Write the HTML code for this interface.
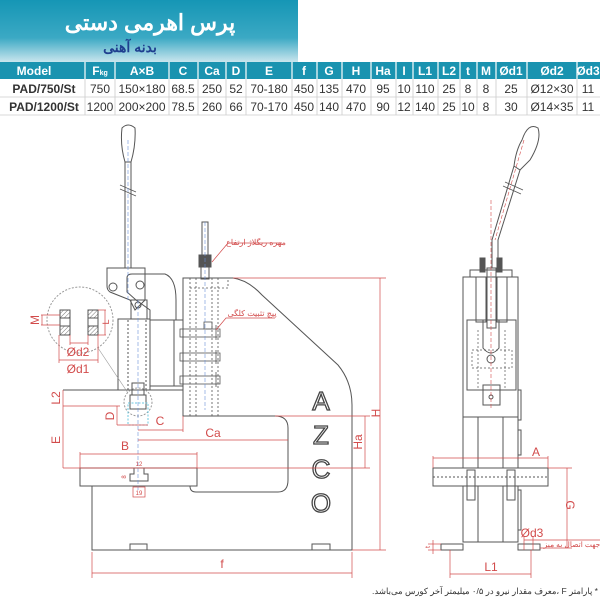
<!DOCTYPE html>
<html><head><meta charset="utf-8"><style>
body{margin:0;width:600px;height:600px;background:#fff;overflow:hidden;font-family:"Liberation Sans","Noto Sans CJK SC",sans-serif}
</style></head><body>
<svg width="600" height="600" viewBox="0 0 600 600" xmlns="http://www.w3.org/2000/svg" font-family="Liberation Sans, Noto Sans CJK SC, sans-serif">
<defs>
<linearGradient id="bn" x1="0" y1="0" x2="0" y2="1"><stop offset="0" stop-color="#1596b5"/><stop offset="0.6" stop-color="#3ba9c4"/><stop offset="1" stop-color="#cfe8ef"/></linearGradient>
<pattern id="ht" width="3" height="3" patternUnits="userSpaceOnUse" patternTransform="rotate(45)"><line x1="0" y1="0" x2="0" y2="3" stroke="#777" stroke-width="1"/></pattern>
</defs>
<rect x="0" y="0" width="298" height="63" fill="url(#bn)"/>
<text x="150" y="30" text-anchor="middle" font-size="22" font-weight="bold" fill="#fff">پرس اهرمی دستی</text>
<text x="130" y="52" text-anchor="middle" font-size="14" font-weight="bold" fill="#1f3f8f">بدنه آهنی</text>
<rect x="0" y="62" width="600" height="17" fill="#1a93b0"/>
<g font-size="12" font-weight="bold" fill="#fff" text-anchor="middle">
<text x="34" y="75">Model</text><text x="100" y="75">F<tspan font-size="7">kg</tspan></text><text x="142" y="75">A×B</text><text x="183" y="75">C</text><text x="212" y="75">Ca</text><text x="236" y="75">D</text><text x="269" y="75">E</text><text x="304" y="75">f</text><text x="329" y="75">G</text><text x="356" y="75">H</text><text x="383" y="75">Ha</text><text x="404" y="75">I</text><text x="425" y="75">L1</text><text x="449" y="75">L2</text><text x="468" y="75">t</text><text x="486" y="75">M</text><text x="511" y="75">Ød1</text><text x="552" y="75">Ød2</text><text x="588" y="75">Ød3</text>
</g>
<g stroke="#fff" stroke-width="1.2"><line x1="85" y1="62" x2="85" y2="79"/><line x1="115" y1="62" x2="115" y2="79"/><line x1="169" y1="62" x2="169" y2="79"/><line x1="198" y1="62" x2="198" y2="79"/><line x1="226" y1="62" x2="226" y2="79"/><line x1="246" y1="62" x2="246" y2="79"/><line x1="292" y1="62" x2="292" y2="79"/><line x1="317" y1="62" x2="317" y2="79"/><line x1="342" y1="62" x2="342" y2="79"/><line x1="371" y1="62" x2="371" y2="79"/><line x1="396" y1="62" x2="396" y2="79"/><line x1="413" y1="62" x2="413" y2="79"/><line x1="438" y1="62" x2="438" y2="79"/><line x1="460" y1="62" x2="460" y2="79"/><line x1="477" y1="62" x2="477" y2="79"/><line x1="496" y1="62" x2="496" y2="79"/><line x1="527" y1="62" x2="527" y2="79"/><line x1="577" y1="62" x2="577" y2="79"/></g>
<g stroke="#ccc" stroke-width="0.8"><line x1="0" y1="97" x2="600" y2="97"/><line x1="0" y1="115" x2="600" y2="115"/>
<line x1="85" y1="79" x2="85" y2="115"/><line x1="115" y1="79" x2="115" y2="115"/><line x1="169" y1="79" x2="169" y2="115"/><line x1="198" y1="79" x2="198" y2="115"/><line x1="226" y1="79" x2="226" y2="115"/><line x1="246" y1="79" x2="246" y2="115"/><line x1="292" y1="79" x2="292" y2="115"/><line x1="317" y1="79" x2="317" y2="115"/><line x1="342" y1="79" x2="342" y2="115"/><line x1="371" y1="79" x2="371" y2="115"/><line x1="396" y1="79" x2="396" y2="115"/><line x1="413" y1="79" x2="413" y2="115"/><line x1="438" y1="79" x2="438" y2="115"/><line x1="460" y1="79" x2="460" y2="115"/><line x1="477" y1="79" x2="477" y2="115"/><line x1="496" y1="79" x2="496" y2="115"/><line x1="527" y1="79" x2="527" y2="115"/><line x1="577" y1="79" x2="577" y2="115"/></g>
<g font-size="12" fill="#333" text-anchor="middle">
<text x="44" y="93" font-weight="bold">PAD/750/St</text><text x="100" y="93">750</text><text x="142" y="93">150×180</text><text x="183" y="93">68.5</text><text x="212" y="93">250</text><text x="236" y="93">52</text><text x="269" y="93">70-180</text><text x="304" y="93">450</text><text x="329" y="93">135</text><text x="356" y="93">470</text><text x="383" y="93">95</text><text x="404" y="93">10</text><text x="425" y="93">110</text><text x="449" y="93">25</text><text x="468" y="93">8</text><text x="486" y="93">8</text><text x="511" y="93">25</text><text x="552" y="93">Ø12×30</text><text x="588" y="93">11</text>
<text x="44" y="111" font-weight="bold">PAD/1200/St</text><text x="100" y="111">1200</text><text x="142" y="111">200×200</text><text x="183" y="111">78.5</text><text x="212" y="111">260</text><text x="236" y="111">66</text><text x="269" y="111">70-170</text><text x="304" y="111">450</text><text x="329" y="111">140</text><text x="356" y="111">470</text><text x="383" y="111">90</text><text x="404" y="111">12</text><text x="425" y="111">140</text><text x="449" y="111">25</text><text x="468" y="111">10</text><text x="486" y="111">8</text><text x="511" y="111">30</text><text x="552" y="111">Ø14×35</text><text x="588" y="111">11</text>
</g>

<g fill="none" stroke="#555" stroke-width="1">
<path d="M122,128 Q128,122 135,128 Q136,145 131,162 L125,162 Q120,145 122,128 Z"/>
<rect x="125" y="162" width="6" height="106"/>
<path d="M120,185 L136,192 M120,189 L136,196" stroke-width="0.8"/>
<path d="M107,268 L145,268 L145,300 L135,310 L130,300 L110,292 Q107,290 107,286 Z"/>
<path d="M127,278 Q127,274 132,274 L165,274 Q176,278 176,300 L176,320 L150,320 L150,310 L136,300 L127,292 Z"/>
<rect x="131" y="300" width="16" height="19"/>
<circle cx="113" cy="287" r="4"/><circle cx="140" cy="285" r="4"/><circle cx="138" cy="305" r="3"/>
<rect x="118" y="319" width="32" height="71"/>
<rect x="150" y="320" width="24" height="66"/>
<rect x="174" y="320" width="9" height="66"/>
<line x1="128" y1="320" x2="128" y2="390" stroke-dasharray="2,2"/><line x1="146" y1="320" x2="146" y2="390" stroke-dasharray="2,2"/>
<path d="M183,278 L233,278 Q248,280 262,295 L338,365 Q352,382 352,405 L352,550 L92,550 L92,486 L190,486 Q190,492 196,492 L278,492 Q288,492 288,480 L288,428 Q288,416 275,416 L183,416 Z"/>
<line x1="63" y1="390" x2="183" y2="390"/>
<g stroke-dasharray="2,2" stroke-width="0.8"><line x1="190" y1="278" x2="190" y2="416"/><line x1="196" y1="278" x2="196" y2="416"/><line x1="212" y1="278" x2="212" y2="416"/><line x1="218" y1="278" x2="218" y2="416"/><path d="M190,288 L228,288 L228,278"/></g>
<rect x="202" y="222" width="6" height="33"/>
<rect x="199" y="255" width="12" height="12" fill="#555"/>
<rect x="201" y="267" width="8" height="12"/>
<g stroke-width="0.8"><rect x="180" y="329" width="40" height="8"/><rect x="180" y="353" width="40" height="8"/><rect x="180" y="376" width="40" height="8"/>
<rect x="204" y="322" width="8" height="7"/><line x1="216" y1="325" x2="216" y2="340"/><line x1="216" y1="350" x2="216" y2="364"/><line x1="216" y1="372" x2="216" y2="387"/></g>
<rect x="80" y="468" width="117" height="18"/>
<path d="M134,468 L134,474 L130,474 L130,481 L148,481 L148,474 L144,474 L144,468" />
<rect x="130" y="544" width="17" height="6"/><rect x="312" y="544" width="18" height="6"/>
<circle cx="80" cy="320" r="33" stroke="#999" stroke-dasharray="2,1.5"/>
<circle cx="138" cy="402" r="14" stroke="#999" stroke-dasharray="2,1.5"/>
<line x1="98" y1="348" x2="128" y2="393" stroke="#999" stroke-width="0.6"/>
<rect x="60" y="310" width="10" height="25" fill="url(#ht)"/><rect x="88" y="310" width="10" height="25" fill="url(#ht)"/>
<rect x="60" y="318" width="10" height="8" fill="#fff"/><rect x="88" y="318" width="10" height="8" fill="#fff"/>
<rect x="130" y="395" width="16" height="14"/>
<rect x="132" y="383" width="12" height="12"/>
</g>
<rect x="128" y="403" width="20" height="22" fill="none" stroke="#6cc8e0" stroke-dasharray="2,1.5"/>
<g stroke="#6a8fd8" stroke-width="0.6" stroke-dasharray="4,2"><line x1="128" y1="140" x2="128" y2="300"/><line x1="138" y1="300" x2="138" y2="490"/><line x1="205" y1="222" x2="205" y2="410"/></g>
<g font-size="26" fill="none" stroke="#444" stroke-width="1.3" text-anchor="middle" font-family="Liberation Sans, sans-serif"><text x="321" y="410">A</text><text x="321" y="444">Z</text><text x="321" y="478">C</text><text x="321" y="512">O</text></g>

<g stroke="#d24b4b" stroke-width="0.7" fill="none">
<line x1="233" y1="278" x2="386" y2="278"/><line x1="352" y1="550" x2="386" y2="550"/><line x1="380" y1="278" x2="380" y2="550"/>
<line x1="275" y1="416" x2="370" y2="416"/><line x1="63" y1="468" x2="370" y2="468"/><line x1="365" y1="416" x2="365" y2="468"/>
<line x1="92" y1="552" x2="92" y2="578"/><line x1="352" y1="552" x2="352" y2="578"/><line x1="92" y1="573" x2="352" y2="573"/>
<line x1="63" y1="390" x2="63" y2="468"/><line x1="63" y1="406" x2="120" y2="406"/>
<line x1="117" y1="406" x2="117" y2="425"/><line x1="117" y1="425" x2="148" y2="425"/>
<line x1="138" y1="430" x2="183" y2="430"/><line x1="183" y1="416" x2="183" y2="432"/>
<line x1="138" y1="440" x2="288" y2="440"/>
<line x1="80" y1="454" x2="197" y2="454"/><line x1="80" y1="452" x2="80" y2="468"/><line x1="197" y1="452" x2="197" y2="468"/>
<rect x="133" y="487" width="12" height="10"/>
<line x1="41" y1="315" x2="60" y2="315"/><line x1="41" y1="325" x2="60" y2="325"/><line x1="42" y1="315" x2="42" y2="325"/>
<line x1="98" y1="310" x2="106" y2="310"/><line x1="98" y1="335" x2="106" y2="335"/><line x1="105" y1="310" x2="105" y2="335"/>
<line x1="70" y1="335" x2="70" y2="345"/><line x1="88" y1="335" x2="88" y2="345"/><line x1="70" y1="343" x2="88" y2="343"/>
<line x1="59" y1="335" x2="59" y2="363"/><line x1="98" y1="335" x2="98" y2="363"/><line x1="59" y1="360" x2="98" y2="360"/>
<path d="M212,262 L228,243 L282,243"/><path d="M216,330 L226,318 L275,318"/>
</g>
<g fill="#d24b4b" font-size="12" text-anchor="middle">
<text x="222" y="568">f</text><text x="160" y="425">C</text><text x="213" y="437">Ca</text><text x="125" y="450">B</text>
<text transform="translate(380,413) rotate(-90)">H</text><text transform="translate(362,442) rotate(-90)">Ha</text>
<text transform="translate(60,440) rotate(-90)">E</text><text transform="translate(60,398) rotate(-90)">L2</text>
<text transform="translate(114,416) rotate(-90)">D</text><text transform="translate(39,320) rotate(-90)">M</text><text transform="translate(109,322) rotate(-90)" font-size="9">L</text>
<text x="78" y="356">Ød2</text><text x="78" y="373">Ød1</text>
<text x="139" y="466" font-size="6">12</text><text x="139" y="495" font-size="6">19</text><text transform="translate(126,477) rotate(-90)" font-size="6">8</text>
<text x="256" y="245" font-size="8">مهره ریگلاژ ارتفاع</text><text x="252" y="316" font-size="8">پیچ تثبیت کلگی</text>
</g>

<g fill="none" stroke="#555" stroke-width="1">
<path d="M522,140 Q528,122 538,128 Q542,140 530,160 L520,170 L514,166 Q516,150 522,140 Z"/>
<path d="M514,166 L492,240 L492,268 M520,170 L498,240 L498,268"/>
<path d="M505,182 L523,190 M503,186 L521,194" stroke-width="0.8"/>
<rect x="463" y="277" width="55" height="265"/>
<rect x="470" y="270" width="42" height="7"/>
<rect x="480" y="258" width="5" height="14" fill="#555"/><rect x="497" y="258" width="5" height="14" fill="#555"/>
<rect x="476" y="277" width="10" height="45"/><rect x="497" y="277" width="10" height="45"/>
<rect x="487" y="268" width="9" height="60"/>
<rect x="467" y="320" width="49" height="70"/>
<path d="M483,320 L483,348 Q491,358 499,348 L499,320"/>
<circle cx="491" cy="359" r="4"/>
<rect x="483" y="385" width="17" height="20"/><circle cx="491" cy="397" r="2"/>
<line x1="463" y1="417" x2="518" y2="417"/>
<line x1="478" y1="417" x2="478" y2="542"/><line x1="503" y1="417" x2="503" y2="542"/>
<rect x="518" y="390" width="3" height="30"/><rect x="518" y="430" width="3" height="25"/><rect x="518" y="490" width="3" height="40"/>
<rect x="433" y="468" width="115" height="18" fill="#fff"/>
<line x1="433" y1="477" x2="548" y2="477" stroke-dasharray="2,2"/>
<rect x="467" y="470" width="8" height="30"/><rect x="507" y="470" width="8" height="30"/>
<rect x="441" y="544" width="22" height="6"/><rect x="518" y="544" width="22" height="6"/>
<g stroke-dasharray="2,2" stroke-width="0.7"><rect x="472" y="350" width="40" height="18"/><line x1="478" y1="330" x2="478" y2="390"/><line x1="505" y1="330" x2="505" y2="390"/></g>
</g>
<g stroke="#d24b4b" stroke-width="0.6" stroke-dasharray="4,2"><line x1="491" y1="200" x2="491" y2="410"/><line x1="524" y1="140" x2="495" y2="240"/></g>
<g stroke="#d24b4b" stroke-width="0.7" fill="none">
<line x1="433" y1="458" x2="548" y2="458"/><line x1="433" y1="456" x2="433" y2="468"/><line x1="548" y1="456" x2="548" y2="468"/>
<line x1="548" y1="468" x2="572" y2="468"/><line x1="540" y1="548" x2="572" y2="548"/><line x1="567" y1="468" x2="567" y2="548"/>
<line x1="450" y1="550" x2="450" y2="578"/><line x1="531" y1="550" x2="531" y2="578"/><line x1="450" y1="574" x2="531" y2="574"/>
<line x1="524" y1="536" x2="524" y2="550"/><line x1="533" y1="536" x2="533" y2="550"/><line x1="524" y1="540" x2="600" y2="540"/>
<line x1="428" y1="544" x2="441" y2="544"/><line x1="428" y1="550" x2="441" y2="550"/><line x1="433" y1="540" x2="433" y2="554"/>
</g>
<g fill="#d24b4b" font-size="12" text-anchor="middle">
<text x="536" y="456">A</text><text transform="translate(566,505) rotate(90)">G</text><text x="532" y="537">Ød3</text>
<text x="491" y="571">L1</text><text x="572" y="547" font-size="7.5">جهت اتصال به میز</text>
<text transform="translate(430,547) rotate(-90)" font-size="7">t</text>
</g>
<text x="598" y="594" direction="rtl" text-anchor="start" font-size="8.5" fill="#333">* پارامتر F ،معرف مقدار نیرو در ۰/۵ میلیمتر آخر کورس می‌باشد.</text>
</svg>
</body></html>
